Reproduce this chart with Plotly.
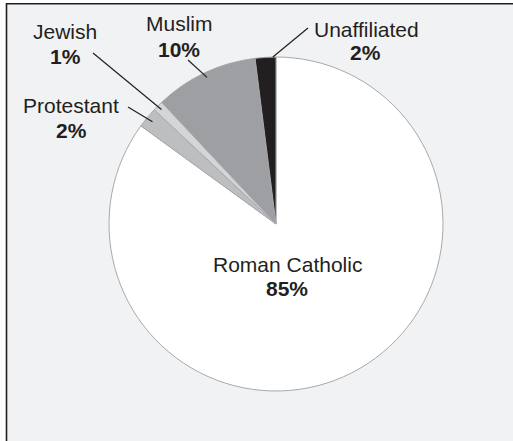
import plotly.graph_objects as go
import math

labels = ["Roman Catholic", "Protestant", "Jewish", "Muslim", "Unaffiliated"]
values = [85, 2, 1, 10, 2]
colors = ["#ffffff", "#bcbec0", "#d4d5d7", "#9d9fa2", "#231f20"]

W, H = 513, 441
CX, CY, R = 276, 224, 167

# label layout (pixel positions of text centres) and leader-line start points
name_pos = {"Unaffiliated": (366, 29), "Muslim": (179, 24), "Jewish": (65, 31),
            "Protestant": (71, 106), "Roman Catholic": (287, 264)}
pct_pos = {"Unaffiliated": (365, 53), "Muslim": (179, 49), "Jewish": (65, 56),
           "Protestant": (71, 131), "Roman Catholic": (287, 288)}
line_start = {"Unaffiliated": (308, 28), "Muslim": (188, 60), "Jewish": (93, 53),
              "Protestant": (128, 107)}
tip_frac = {"Unaffiliated": 0.85, "Muslim": 0.5, "Jewish": 0.5, "Protestant": 0.5}
tip_r = {"Unaffiliated": 1.0, "Muslim": 0.97, "Jewish": 0.97, "Protestant": 0.96}

def px(x):
    return x / W

def py(y):
    return 1 - y / H

fig = go.Figure(go.Pie(
    labels=labels, values=values, sort=False, direction="clockwise", rotation=0,
    marker=dict(colors=colors, line=dict(color="#a7a9ac", width=1)),
    textinfo="none", hoverinfo="label+percent", showlegend=False,
    domain=dict(x=[px(CX - R), px(CX + R)], y=[py(CY + R), py(CY - R)]),
))

shapes = [dict(type="rect", xref="paper", yref="paper", x0=px(6.5), x1=1.2,
               y0=-0.2, y1=py(3.8), line=dict(color="#231f20", width=1.6),
               fillcolor="#f1f2f4", layer="below")]

total = sum(values)
cum = 0
annotations = []
font = "Liberation Sans, Arial, Helvetica, sans-serif"
for lab, v in zip(labels, values):
    start = cum / total * 360
    end = (cum + v) / total * 360
    cum += v
    nx, ny = name_pos[lab]
    annotations.append(dict(x=px(nx), y=py(ny), xref="paper", yref="paper", text=lab,
                            showarrow=False, xanchor="center", yanchor="middle",
                            font=dict(family=font, size=21, color="#231f20")))
    qx, qy = pct_pos[lab]
    annotations.append(dict(x=px(qx), y=py(qy), xref="paper", yref="paper",
                            text=f"<b>{round(v / total * 100)}%</b>",
                            showarrow=False, xanchor="center", yanchor="middle",
                            font=dict(family=font, size=21, color="#231f20")))
    if lab in line_start:
        th = math.radians(start + tip_frac[lab] * (end - start))
        r = R * tip_r[lab]
        tx = CX + r * math.sin(th)
        ty = CY - r * math.cos(th)
        sx, sy = line_start[lab]
        shapes.append(dict(type="line", xref="paper", yref="paper",
                           x0=px(sx), y0=py(sy), x1=px(tx), y1=py(ty),
                           line=dict(color="#231f20", width=1.2), layer="above"))

fig.update_layout(width=W, height=H, margin=dict(l=0, r=0, t=0, b=0),
                  paper_bgcolor="#ffffff", plot_bgcolor="#ffffff",
                  shapes=shapes, annotations=annotations)
fig.write_html("out.html")
